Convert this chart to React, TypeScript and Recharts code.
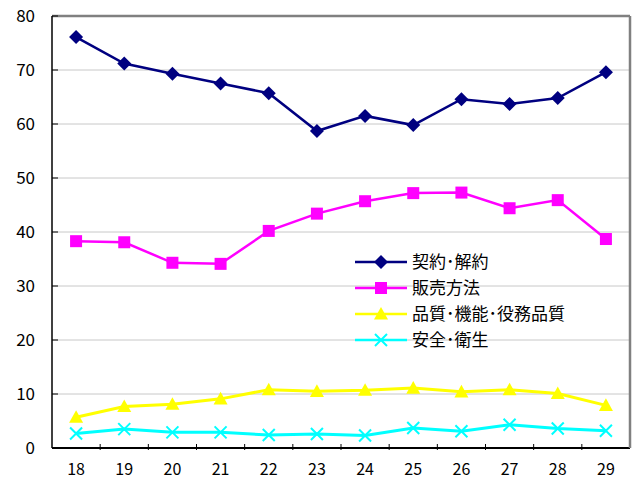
import { LineChart, Line, XAxis, YAxis, CartesianGrid, ReferenceLine } from "recharts";

const years = ["18", "19", "20", "21", "22", "23", "24", "25", "26", "27", "28", "29"];
const contract = [76.1, 71.2, 69.3, 67.5, 65.7, 58.7, 61.5, 59.8, 64.6, 63.7, 64.8, 69.6];
const sales = [38.3, 38.1, 34.3, 34.1, 40.2, 43.4, 45.7, 47.2, 47.3, 44.4, 45.9, 38.7];
const quality = [5.7, 7.7, 8.1, 9.1, 10.8, 10.5, 10.7, 11.1, 10.4, 10.8, 10.1, 7.9];
const safety = [2.7, 3.5, 2.9, 2.9, 2.4, 2.6, 2.3, 3.7, 3.1, 4.3, 3.6, 3.2];
const yTicks = [0, 10, 20, 30, 40, 50, 60, 70, 80];

const seriesInfo = [
  { key: "contract", name: "契約･解約", color: "#000080", shape: "diamond" },
  { key: "sales", name: "販売方法", color: "#FF00FF", shape: "square" },
  { key: "quality", name: "品質･機能･役務品質", color: "#FFFF00", shape: "triangle" },
  { key: "safety", name: "安全･衛生", color: "#00FFFF", shape: "cross" },
];

const data = years.map((y, i) => ({
  year: y,
  contract: contract[i],
  sales: sales[i],
  quality: quality[i],
  safety: safety[i],
}));

const FONT = '"Noto Sans CJK JP", "DejaVu Sans", sans-serif';
const STEP = (630 - 52) / years.length;

function Marker({ shape, cx, cy, color }: { shape: string; cx: number; cy: number; color: string }) {
  if (cx == null || cy == null) return null;
  if (shape === "diamond") {
    const r = 7;
    return <path d={`M${cx},${cy - r}L${cx + r},${cy}L${cx},${cy + r}L${cx - r},${cy}Z`} fill={color} />;
  }
  if (shape === "square") {
    const r = 6;
    return <rect x={cx - r} y={cy - r} width={r * 2} height={r * 2} fill={color} />;
  }
  if (shape === "triangle") {
    const r = 7;
    return <path d={`M${cx},${cy - r}L${cx + r},${cy + r * 0.8}L${cx - r},${cy + r * 0.8}Z`} fill={color} />;
  }
  const r = 6;
  return (
    <path
      d={`M${cx - r},${cy - r}L${cx + r},${cy + r}M${cx - r},${cy + r}L${cx + r},${cy - r}`}
      stroke={color}
      strokeWidth={2}
      fill="none"
    />
  );
}

function XTick(props: any) {
  const { x, y, payload, index } = props;
  return (
    <g>
      {index > 0 && <line x1={x - STEP / 2} x2={x - STEP / 2} y1={y} y2={y - 6} stroke="#000" strokeWidth={1} />}
      <text x={x} y={y + 25} textAnchor="middle" fontSize={16} fontFamily={FONT} fill="#000">
        {payload.value}
      </text>
    </g>
  );
}

function YTick(props: any) {
  const { x, y, payload } = props;
  return (
    <g>
      <line x1={x} x2={x + 6} y1={y} y2={y} stroke="#000" strokeWidth={1} />
      <text x={x - 17} y={y + 6} textAnchor="end" fontSize={17} fontFamily={FONT} fill="#000">
        {payload.value}
      </text>
    </g>
  );
}

function LegendBox() {
  return (
    <svg width={250} height={120} style={{ position: "absolute", left: 352, top: 240 }}>
      {seriesInfo.map((s, i) => {
        const y = 22 + i * 26;
        return (
          <g key={s.key}>
            <line x1={3} x2={55} y1={y} y2={y} stroke={s.color} strokeWidth={2.5} />
            <Marker shape={s.shape} cx={29} cy={y} color={s.color} />
            <text x={60} y={y + 6} fontSize={17} fontFamily={FONT} fill="#000">
              {s.name}
            </text>
          </g>
        );
      })}
    </svg>
  );
}

export default function App() {
  return (
    <div style={{ position: "absolute", left: 0, top: 0, width: 640, height: 480, background: "#fff" }}>
      <LineChart width={640} height={480} data={data} margin={{ top: 16, right: 0, bottom: 2, left: 0 }}>
        <CartesianGrid vertical={false} stroke="#c8c8c8" strokeWidth={1} />
        <XAxis
          dataKey="year"
          scale="band"
          height={30}
          axisLine={{ stroke: "#000", strokeWidth: 2 }}
          tickLine={false}
          tickSize={0}
          tick={<XTick />}
          interval={0}
        />
        <YAxis
          domain={[0, 80]}
          ticks={yTicks}
          width={52}
          axisLine={{ stroke: "#000", strokeWidth: 1.5 }}
          tickLine={false}
          tickSize={0}
          tickMargin={0}
          tick={<YTick />}
        />
        <YAxis
          yAxisId="frame"
          orientation="right"
          width={10}
          domain={[0, 80]}
          axisLine={{ stroke: "#808080", strokeWidth: 2.5 }}
          tick={false}
          tickLine={false}
        />
        <ReferenceLine y={80} stroke="#808080" strokeWidth={2.5} />
        {seriesInfo.map((s) => (
          <Line
            key={s.key}
            type="linear"
            dataKey={s.key}
            name={s.name}
            stroke={s.color}
            strokeWidth={s.shape === "cross" || s.shape === "triangle" ? 3 : 2.5}
            dot={(p: any) => <Marker key={p.index} shape={s.shape} cx={p.cx} cy={p.cy} color={s.color} />}
            activeDot={false}
            isAnimationActive={false}
          />
        ))}
      </LineChart>
      <LegendBox />
    </div>
  );
}
